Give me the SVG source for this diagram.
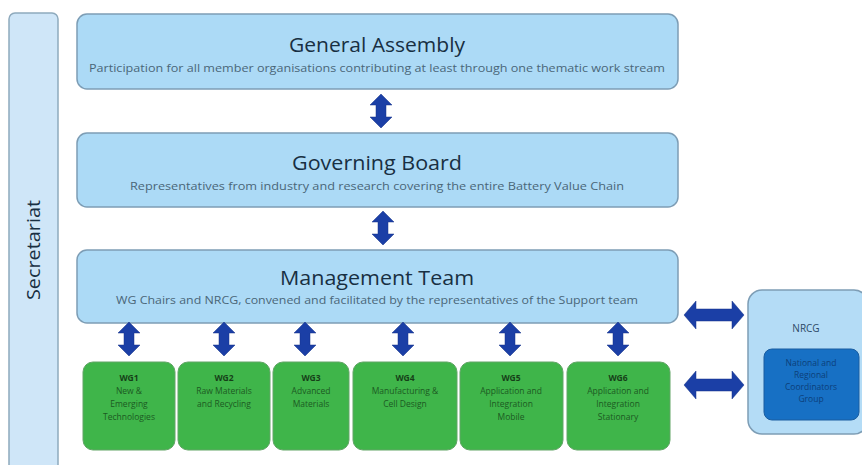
<svg xmlns="http://www.w3.org/2000/svg" width="862" height="465" viewBox="0 0 862 465">
<style>
.big{fill:#acdaf6;stroke:#7d9db5;stroke-width:1.5}
.sec{fill:#cfe6f8;stroke:#8eaabd;stroke-width:1.5}
.wg{fill:#3fb54a;stroke:#62a566;stroke-width:1}
.title{font-family:"Open Sans","Liberation Sans",sans-serif;font-size:20px;fill:#182f42;text-anchor:middle;font-weight:500}
.sub{font-family:"Open Sans","Liberation Sans",sans-serif;font-size:10px;fill:#4a6678;text-anchor:middle}
.wgt{font-family:"Open Sans","Liberation Sans",sans-serif;font-size:8.5px;fill:#1c5a22;text-anchor:middle}
.wgb{font-weight:bold;fill:#163f18}
.arr{fill:#1b3fa6;stroke:#153388;stroke-width:0.5}
</style>
<defs>
<path id="va" d="M0,-17 L11,-6 L5,-6 L5,6 L11,6 L0,17 L-11,6 L-5,6 L-5,-6 L-11,-6 Z"/>
<path id="ha" d="M-30,0 L-18,-14 L-18,-6 L18,-6 L18,-14 L30,0 L18,14 L18,6 L-18,6 L-18,14 Z"/>
</defs>
<rect width="862" height="465" fill="#ffffff"/>
<g id="secretariat">
<rect class="sec" x="9" y="13" width="49" height="470" rx="6"/>
<text class="title" transform="translate(40,250) rotate(-90)" style="font-size:19px" textLength="100" lengthAdjust="spacingAndGlyphs">Secretariat</text>
</g>
<g id="general-assembly">
<rect class="big" x="77" y="14" width="601" height="75" rx="10"/>
<text class="title" x="377" y="52" textLength="176" lengthAdjust="spacingAndGlyphs">General Assembly</text>
<text class="sub" x="377" y="72" textLength="576" lengthAdjust="spacingAndGlyphs">Participation for all member organisations contributing at least through one thematic work stream</text>
</g>
<g id="governing-board">
<rect class="big" x="77" y="133" width="601" height="74" rx="10"/>
<text class="title" x="377" y="170" textLength="170" lengthAdjust="spacingAndGlyphs">Governing Board</text>
<text class="sub" x="377" y="190" textLength="494" lengthAdjust="spacingAndGlyphs">Representatives from industry and research covering the entire Battery Value Chain</text>
</g>
<g id="management-team">
<rect class="big" x="77" y="250" width="601" height="73" rx="10"/>
<text class="title" x="377" y="285" textLength="194" lengthAdjust="spacingAndGlyphs">Management Team</text>
<text class="sub" x="377" y="304" textLength="522" lengthAdjust="spacingAndGlyphs">WG Chairs and NRCG, convened and facilitated by the representatives of the Support team</text>
</g>
<g id="wg1">
<rect class="wg" x="83" y="362" width="92" height="88" rx="10"/>
<text class="wgt" x="129" y="381"><tspan class="wgb">WG1</tspan><tspan x="129" dy="13">New &amp;</tspan><tspan x="129" dy="13">Emerging</tspan><tspan x="129" dy="13">Technologies</tspan></text>
</g>
<g id="wg2">
<rect class="wg" x="178" y="362" width="92" height="88" rx="10"/>
<text class="wgt" x="224" y="381"><tspan class="wgb">WG2</tspan><tspan x="224" dy="13">Raw Materials</tspan><tspan x="224" dy="13">and Recycling</tspan></text>
</g>
<g id="wg3">
<rect class="wg" x="273" y="362" width="76" height="88" rx="10"/>
<text class="wgt" x="311" y="381"><tspan class="wgb">WG3</tspan><tspan x="311" dy="13">Advanced</tspan><tspan x="311" dy="13">Materials</tspan></text>
</g>
<g id="wg4">
<rect class="wg" x="353" y="362" width="104" height="88" rx="10"/>
<text class="wgt" x="405" y="381"><tspan class="wgb">WG4</tspan><tspan x="405" dy="13">Manufacturing &amp;</tspan><tspan x="405" dy="13">Cell Design</tspan></text>
</g>
<g id="wg5">
<rect class="wg" x="460" y="362" width="103" height="88" rx="10"/>
<text class="wgt" x="511" y="381"><tspan class="wgb">WG5</tspan><tspan x="511" dy="13">Application and</tspan><tspan x="511" dy="13">Integration</tspan><tspan x="511" dy="13">Mobile</tspan></text>
</g>
<g id="wg6">
<rect class="wg" x="567" y="362" width="103" height="88" rx="10"/>
<text class="wgt" x="618" y="381"><tspan class="wgb">WG6</tspan><tspan x="618" dy="13">Application and</tspan><tspan x="618" dy="13">Integration</tspan><tspan x="618" dy="13">Stationary</tspan></text>
</g>
<g id="nrcg">
<rect class="big" x="748" y="290" width="120" height="144" rx="14" style="fill:#b4dcf6"/>
<text class="title" x="806" y="332" style="font-size:10px;fill:#2d4a66">NRCG</text>
<rect x="764" y="349" width="95" height="71" rx="8" fill="#1770c4" stroke="#1a5da0" stroke-width="1"/>
<text class="wgt" x="811" y="366" style="fill:#0c3f7a"><tspan>National and</tspan><tspan x="811" dy="12">Regional</tspan><tspan x="811" dy="12">Coordinators</tspan><tspan x="811" dy="12">Group</tspan></text>
</g>
<g id="connectors" class="arr">
<use href="#va" x="381" y="111"/>
<use href="#va" x="383" y="228"/>
<use href="#va" x="129" y="339"/>
<use href="#va" x="224" y="339"/>
<use href="#va" x="305" y="339"/>
<use href="#va" x="403" y="339"/>
<use href="#va" x="510" y="339"/>
<use href="#va" x="618" y="339"/>
<use href="#ha" x="714" y="315"/>
<use href="#ha" x="714" y="385"/>
</g>
</svg>
